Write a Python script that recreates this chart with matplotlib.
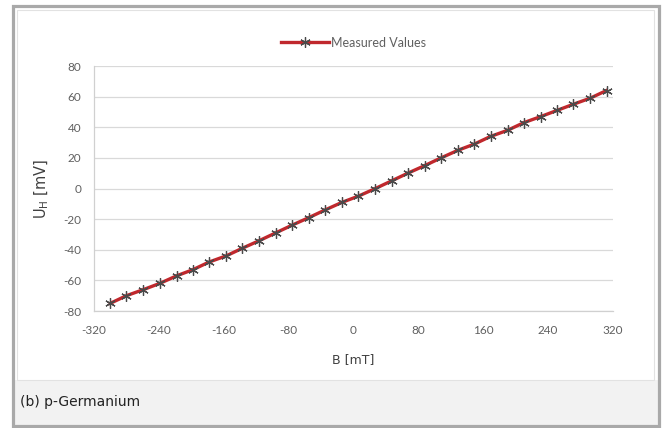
import matplotlib
matplotlib.use("Agg")
import matplotlib.pyplot as plt
from matplotlib.patches import Rectangle

plt.rcParams["axes.unicode_minus"] = False

# magnetic field B [mT] and Hall voltage U_H [mV]
B = [-300, -280, -259, -239, -218, -198, -178, -157, -137, -116, -96, -76,
     -55, -35, -14, 6, 27, 47, 67, 88, 108, 129, 149, 169, 190, 210, 231,
     251, 271, 292, 312]
U_H = [-75, -70, -66, -62, -57, -53, -48, -44, -39, -34, -29, -24,
       -19, -14, -9, -5, 0, 5, 10, 15, 20, 25, 29, 34, 38, 43, 47,
       51, 55, 59, 64]

x_ticks = [-320, -240, -160, -80, 0, 80, 160, 240, 320]
y_ticks = [-80, -60, -40, -20, 0, 20, 40, 60, 80]

W, H = 662, 428
fig = plt.figure(figsize=(W / 100, H / 100), dpi=100)
fig.patch.set_facecolor("white")

def fx(px):
    return px / W

def fy(py):
    return 1 - py / H

# caption band + frame
fig.patches.append(Rectangle((fx(13), fy(425)), fx(647), 45 / H,
                             transform=fig.transFigure, facecolor="#f2f2f2",
                             edgecolor="none", zorder=0))
fig.patches.append(Rectangle((fx(17), fy(380)), fx(637), 370 / H,
                             transform=fig.transFigure, facecolor="white",
                             edgecolor="#e2e2e2", lw=0.8, zorder=0))
fig.patches.append(Rectangle((fx(13), fy(426)), fx(646), 420 / H,
                             transform=fig.transFigure, facecolor="none",
                             edgecolor="#a9a9a9", lw=2.3, zorder=5))

ax = fig.add_axes([fx(94), fy(311), fx(613 - 94), (311 - 66) / H])
ax.set_zorder(2)
ax.set_facecolor("none")

ax.plot(B, U_H, color="#c0282d", lw=2.4, marker=(6, 2, 0), ms=7.5,
        mec="#4a4a4a", mew=0.9, label="Measured Values", zorder=3)

ax.set_xlim(-320, 320)
ax.set_ylim(-80, 80)
ax.set_xticks(x_ticks)
ax.set_yticks(y_ticks)
ax.yaxis.grid(True, color="#d9d9d9", lw=0.9)
ax.set_axisbelow(True)
for s in ["top", "right"]:
    ax.spines[s].set_visible(False)
for s in ["left", "bottom"]:
    ax.spines[s].set_color("#d0d0d0")
    ax.spines[s].set_linewidth(0.9)
ax.tick_params(length=0, labelsize=8.5, labelcolor="#606060")
ax.tick_params(axis="x", pad=10)
ax.tick_params(axis="y", pad=9)
for lab in ax.get_xticklabels() + ax.get_yticklabels():
    lab.set_family("Lato")

ax.set_xlabel("B [mT]", fontsize=9, color="#404040", labelpad=12)
ax.set_ylabel("U$_\\mathregular{H}$ [mV]", fontsize=10.5, color="#404040", labelpad=9)

leg = ax.legend(loc="lower center", bbox_to_anchor=(0.5, 1.05), frameon=False,
                prop={"family": "Lato", "size": 9}, handlelength=3.8,
                handletextpad=0.2, borderaxespad=0)
for t in leg.get_texts():
    t.set_color("#606060")

fig.text(fx(20), fy(402), "(b) p-Germanium", fontsize=10, color="#222222",
         va="center", ha="left", zorder=6)

fig.savefig("out.png", dpi=100)
